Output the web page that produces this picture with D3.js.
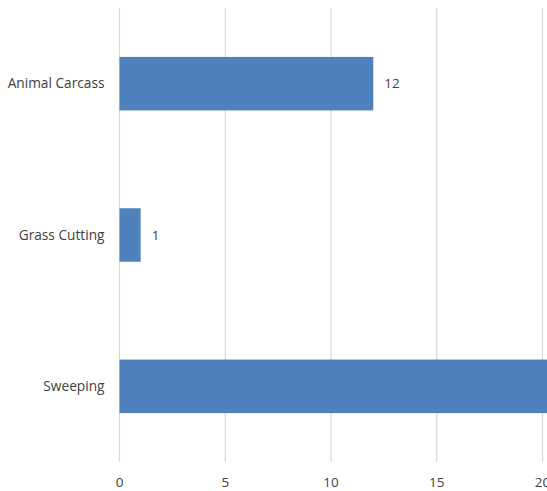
<!DOCTYPE html>
<html><head><meta charset="utf-8">
<script src="https://cdn.jsdelivr.net/npm/d3@7"></script>
<style>
html,body{margin:0;padding:0;background:#fff;overflow:hidden;}
svg{display:block;font-family:"Open Sans",Lato,sans-serif;}
</style></head>
<body>
<script>
const categories = ["Animal Carcass", "Grass Cutting", "Sweeping"];
const values = [12, 1, 22];
const tickValues = [0, 5, 10, 15, 20];

const W = 547, H = 491;
const svg = d3.select("body").append("svg").attr("width", W).attr("height", H);

const x = d3.scaleLinear().domain([0, 20]).range([119.5, 542.5]);
const p = 0.6465;
const y = d3.scaleBand().domain(categories).range([8, 462]).paddingInner(p).paddingOuter(p / 2);

// gridlines
svg.append("g").selectAll("line").data(tickValues).join("line")
  .attr("x1", d => x(d)).attr("x2", d => x(d))
  .attr("y1", 8).attr("y2", 462)
  .attr("stroke", "#d9d9d9").attr("stroke-width", 1.2);

// bars
svg.append("g").selectAll("rect").data(categories).join("rect")
  .attr("x", x(0))
  .attr("y", d => y(d))
  .attr("width", (d, i) => x(values[i]) - x(0))
  .attr("height", y.bandwidth())
  .attr("fill", "#4f81bd");

// value labels
svg.append("g").selectAll("text").data(categories).join("text")
  .attr("x", (d, i) => x(values[i]) + 11)
  .attr("y", d => y(d) + y.bandwidth() / 2)
  .attr("dy", "0.35em")
  .attr("font-size", 13.5)
  .attr("fill", "#404040")
  .text((d, i) => values[i]);

// category labels
svg.append("g").selectAll("text").data(categories).join("text")
  .attr("x", 104.5)
  .attr("y", d => y(d) + y.bandwidth() / 2)
  .attr("dy", "0.35em")
  .attr("text-anchor", "end")
  .attr("font-size", 13.7)
  .attr("fill", "#404040")
  .text(d => d);

// x axis tick labels
svg.append("g").selectAll("text").data(tickValues).join("text")
  .attr("x", d => x(d))
  .attr("y", 482)
  .attr("dy", "0.35em")
  .attr("text-anchor", "middle")
  .attr("font-size", 13.5)
  .attr("fill", "#404040")
  .text(d => d);
</script>
</body></html>
